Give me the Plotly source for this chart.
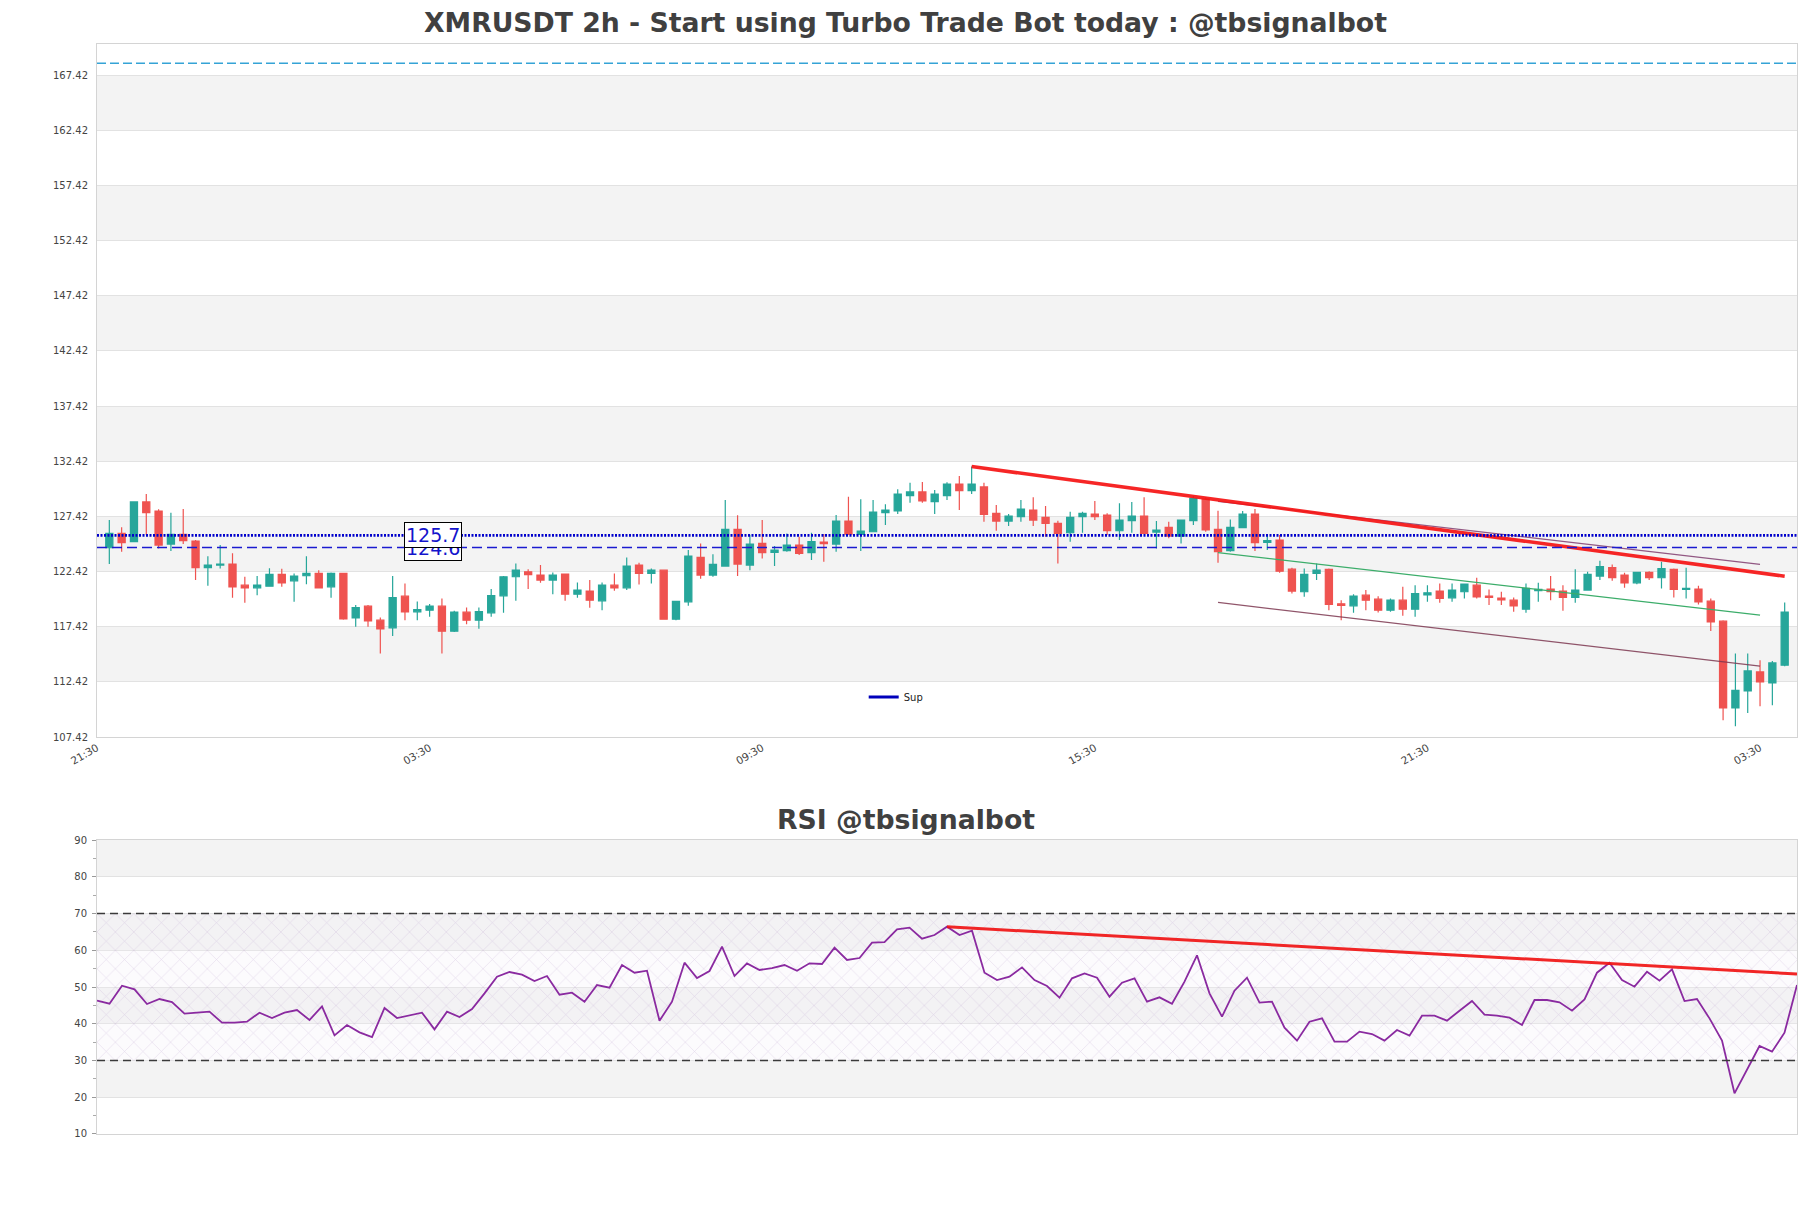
import pandas as pd
import plotly.graph_objects as go

# ---------------- data ----------------
START = "2024-06-07 23:30"
N_CANDLES = 137

opens = [124.58, 125.88, 125.13, 128.73, 127.91, 124.91, 125.79, 125.19, 122.77, 123.01,
         123.10, 121.19, 120.95, 121.10, 122.16, 121.58, 122.04, 122.25, 121.04, 122.25,
         118.22, 119.28, 118.01, 117.32, 120.19, 118.77, 118.92, 119.28, 117.01, 118.74,
         118.01, 118.68, 120.22, 121.95, 122.40, 122.10, 121.65, 122.19, 120.37, 120.65,
         119.77, 121.19, 120.95, 123.01, 122.25, 122.55, 118.10, 119.68, 123.70, 122.10,
         122.92, 126.25, 123.01, 124.97, 124.16, 124.31, 124.82, 124.13, 125.10, 124.91,
         127.00, 125.79, 126.03, 127.76, 127.91, 129.30, 129.64, 128.76, 129.30, 130.36,
         129.76, 130.09, 127.70, 127.00, 127.40, 128.00, 127.34, 126.79, 125.94, 127.40,
         127.64, 127.55, 126.12, 127.03, 127.46, 126.00, 126.43, 125.64, 127.03, 129.00,
         126.25, 124.31, 126.40, 127.64, 125.07, 125.28, 122.64, 120.59, 122.25, 122.61,
         119.50, 119.31, 120.28, 119.92, 118.92, 119.83, 119.01, 120.31, 120.65, 120.04,
         120.59, 121.19, 120.19, 120.01, 119.83, 119.01, 120.68, 120.83, 120.65, 120.07,
         120.74, 122.01, 122.77, 122.10, 121.40, 122.34, 121.86, 122.61, 120.80, 120.83,
         119.74, 117.92, 110.05, 111.60, 113.32, 112.32, 113.93]
highs = [127.09, 126.43, 128.79, 129.45, 128.06, 127.76, 128.09, 125.28, 123.82, 124.82,
         124.07, 121.95, 122.01, 122.73, 122.67, 122.25, 123.82, 122.55, 122.34, 122.30,
         119.38, 119.38, 118.26, 122.01, 121.34, 119.71, 119.47, 119.98, 118.86, 119.16,
         119.16, 120.83, 122.01, 123.16, 122.64, 123.01, 122.34, 122.25, 121.43, 121.65,
         121.43, 122.25, 123.70, 123.22, 122.70, 122.61, 119.77, 124.37, 124.97, 123.98,
         128.91, 127.52, 125.76, 127.09, 124.73, 125.88, 125.58, 125.94, 125.82, 127.55,
         129.21, 128.97, 128.91, 128.52, 129.88, 130.48, 130.54, 129.82, 130.51, 131.09,
         131.94, 130.48, 128.46, 127.64, 128.91, 129.15, 128.36, 127.03, 127.85, 127.85,
         128.82, 127.70, 128.61, 128.73, 129.15, 127.00, 126.94, 127.12, 129.27, 129.15,
         127.94, 127.15, 127.91, 128.09, 125.73, 125.73, 122.77, 122.70, 123.16, 122.70,
         119.83, 120.37, 120.74, 120.19, 119.98, 121.04, 121.19, 121.19, 121.34, 121.34,
         121.34, 121.86, 120.80, 120.59, 120.07, 121.34, 121.40, 122.01, 121.19, 122.64,
         122.40, 123.40, 123.07, 122.31, 122.40, 122.46, 123.31, 122.70, 122.77, 121.13,
         119.98, 118.01, 114.99, 114.99, 114.38, 114.32, 119.62]
lows = [123.10, 124.22, 125.10, 125.73, 124.52, 124.28, 124.91, 121.65, 121.13, 122.70,
        120.04, 119.59, 120.28, 121.04, 121.04, 119.68, 121.28, 120.90, 120.04, 118.05,
        117.41, 117.41, 114.99, 116.59, 118.01, 118.01, 118.32, 114.99, 116.95, 117.65,
        117.23, 118.32, 118.68, 119.77, 120.83, 121.40, 120.37, 119.77, 120.04, 119.13,
        118.92, 120.68, 120.74, 121.25, 121.34, 118.05, 118.01, 119.31, 121.77, 121.95,
        122.86, 122.01, 122.55, 123.61, 122.92, 124.22, 123.92, 123.46, 123.31, 124.22,
        125.73, 124.28, 126.00, 126.64, 127.64, 128.67, 128.67, 127.64, 128.91, 128.00,
        129.45, 126.94, 126.12, 126.55, 126.94, 126.55, 125.58, 123.16, 125.13, 125.94,
        127.09, 125.73, 125.28, 125.94, 125.82, 124.52, 125.43, 124.97, 126.64, 126.03,
        123.22, 124.22, 126.34, 124.28, 124.37, 122.31, 120.43, 120.13, 121.65, 118.92,
        118.01, 118.68, 118.92, 118.71, 118.77, 118.41, 118.32, 119.68, 119.59, 119.68,
        119.98, 119.98, 119.38, 119.38, 118.77, 118.68, 119.68, 119.83, 118.86, 119.59,
        120.68, 121.65, 121.58, 120.95, 121.28, 121.65, 120.89, 120.07, 119.98, 119.44,
        117.04, 108.93, 108.39, 109.60, 110.20, 110.29, 113.84]
closes = [125.88, 125.04, 128.73, 127.76, 124.82, 125.79, 125.22, 122.77, 123.01, 123.10,
          121.04, 120.95, 121.19, 122.16, 121.40, 122.01, 122.25, 120.95, 122.25, 118.13,
          119.16, 117.95, 117.23, 120.07, 118.77, 118.98, 119.28, 117.01, 118.74, 118.01,
          118.80, 120.25, 121.95, 122.55, 122.13, 121.65, 122.10, 120.37, 120.74, 119.83,
          121.19, 120.95, 122.92, 122.25, 122.55, 118.10, 119.71, 123.82, 122.10, 123.07,
          126.25, 123.10, 124.91, 124.13, 124.37, 124.82, 124.07, 125.13, 124.94, 127.00,
          125.82, 126.09, 127.82, 128.00, 129.45, 129.64, 128.82, 129.45, 130.36, 129.76,
          130.36, 127.61, 127.00, 127.46, 128.09, 127.09, 126.79, 125.88, 127.34, 127.70,
          127.40, 126.12, 127.09, 127.46, 125.88, 126.19, 125.64, 127.09, 129.06, 126.19,
          124.22, 126.43, 127.64, 125.04, 125.22, 122.46, 120.65, 122.16, 122.55, 119.44,
          119.35, 120.19, 119.83, 118.92, 119.83, 119.01, 120.43, 120.49, 119.98, 120.74,
          121.28, 120.13, 120.07, 119.86, 119.31, 120.89, 120.80, 120.59, 120.07, 120.74,
          122.16, 122.86, 121.86, 121.40, 122.34, 121.86, 122.70, 120.80, 120.89, 119.68,
          117.86, 110.05, 111.66, 113.41, 112.41, 114.14, 118.74]
rsi = [46.28, 45.46, 50.36, 49.36, 45.37, 46.73, 45.92, 42.74, 43.02, 43.29,
       40.29, 40.29, 40.57, 43.02, 41.56, 43.02, 43.74, 41.02, 44.74, 36.85,
       39.66, 37.66, 36.39, 44.29, 41.56, 42.20, 43.02, 38.48, 43.29, 41.84,
       44.01, 48.28, 52.81, 54.08, 53.36, 51.63, 52.99, 47.91, 48.46, 46.01,
       50.54, 49.82, 55.99, 53.90, 54.44, 40.84, 46.01, 56.62, 52.45, 54.35,
       60.98, 52.99, 56.44, 54.63, 55.17, 55.99, 54.44, 56.44, 56.26, 60.70,
       57.35, 57.89, 62.06, 62.24, 65.69, 66.15, 63.15, 64.15, 66.42, 64.15,
       65.33, 53.90, 51.90, 52.81, 55.35, 51.90, 50.27, 47.10, 52.36, 53.72,
       52.54, 47.37, 51.18, 52.36, 46.01, 47.19, 45.46, 51.45, 58.62, 48.28,
       41.93, 49.00, 52.54, 45.74, 46.01, 38.93, 35.40, 40.57, 41.47, 35.12,
       35.12, 37.85, 37.21, 35.40, 38.30, 36.76, 42.20, 42.20, 40.84, 43.56,
       46.19, 42.47, 42.20, 41.66, 39.66, 46.46, 46.46, 45.83, 43.56, 46.64,
       53.90, 56.62, 51.90, 50.09, 54.17, 51.72, 54.81, 46.19, 46.73, 41.47,
       35.40, 21.07, 27.41, 33.95, 32.40, 37.57, 50.54]

price_ticks = [107.42, 112.42, 117.42, 122.42, 127.42, 132.42, 137.42, 142.42,
               147.42, 152.42, 157.42, 162.42, 167.42]
price_range = [107.42, 170.25]
rsi_ticks = [10, 20, 30, 40, 50, 60, 70, 80, 90]
rsi_range = [10, 90]
rsi_levels = [30, 70]

top_level = 168.5
sup_levels = [125.7, 124.6]
sup_labels = ["125.7", "124.6"]
label_idx = 26

# trend lines: (candle index, value)
main_trend_idx = [70, 136]
main_trend_val = [131.94, 122.0]
chan_idx = [90, 134]
chan_upper = [128.79, 123.07]
chan_mid = [124.13, 118.47]
chan_lower = [119.62, 113.84]
rsi_trend_idx = [68, 136]
rsi_trend_val = [66.42, 53.54]

# ---------------- figure ----------------
times = pd.date_range(START, periods=N_CANDLES, freq="2h")
step = pd.Timedelta(hours=2)
UP, DOWN = "#26a69a", "#ef5350"
GRID = "#e2e2e2"
BAND = "#f3f3f3"
AXC = "#d4d4d4"
FONT = "DejaVu Sans"

fig = go.Figure()
fig.add_trace(go.Candlestick(
    x=times, open=opens, high=highs, low=lows, close=closes,
    increasing=dict(line=dict(color=UP, width=1.2), fillcolor=UP),
    decreasing=dict(line=dict(color=DOWN, width=1.2), fillcolor=DOWN),
    whiskerwidth=0, showlegend=False, xaxis="x", yaxis="y", hoverinfo="skip"))


def seg(idx, vals, color, width, xa="x", ya="y"):
    fig.add_trace(go.Scatter(x=[times[i] for i in idx], y=vals, mode="lines",
                             line=dict(color=color, width=width), showlegend=False,
                             hoverinfo="skip", xaxis=xa, yaxis=ya))


seg(chan_idx, chan_upper, "rgba(128,60,110,0.85)", 1.2)
seg(chan_idx, chan_mid, "#3cad6a", 1.2)
seg(chan_idx, chan_lower, "rgba(125,55,80,0.85)", 1.2)
seg(main_trend_idx, main_trend_val, "rgba(245,20,20,0.92)", 3.6)

# legend entry
fig.add_trace(go.Scatter(x=[None], y=[None], mode="lines", name="Sup",
                         line=dict(color="#0000bb", width=3), xaxis="x", yaxis="y"))

# RSI hatch zone
fig.add_trace(go.Scatter(x=[times[0], times[-1]], y=[rsi_levels[0]] * 2, mode="lines",
                         line=dict(width=0, color="rgba(0,0,0,0)"), showlegend=False,
                         hoverinfo="skip", xaxis="x2", yaxis="y2"))
fig.add_trace(go.Scatter(x=[times[0], times[-1]], y=[rsi_levels[1]] * 2, mode="lines",
                         line=dict(width=0, color="rgba(0,0,0,0)"), fill="tonexty",
                         fillcolor="rgba(235,225,242,0.25)",
                         fillpattern=dict(shape="x", fgcolor="rgba(175,145,200,0.7)",
                                          bgcolor="rgba(245,238,248,0.25)", size=13, solidity=0.08),
                         showlegend=False, hoverinfo="skip", xaxis="x2", yaxis="y2"))
fig.add_trace(go.Scatter(x=times, y=rsi, mode="lines", line=dict(color="#8a2aa0", width=1.8),
                         showlegend=False, hoverinfo="skip", xaxis="x2", yaxis="y2"))
seg(rsi_trend_idx, rsi_trend_val, "rgba(240,20,20,0.92)", 3, "x2", "y2")

shapes = []
# alternating bands
for k in range(0, len(price_ticks) - 1):
    if k % 2 == 1:
        shapes.append(dict(type="rect", xref="x domain", yref="y", x0=0, x1=1,
                           y0=price_ticks[k], y1=price_ticks[k + 1], fillcolor=BAND,
                           line=dict(width=0), layer="below"))
for k in range(0, len(rsi_ticks) - 1):
    if k % 2 == 1:
        shapes.append(dict(type="rect", xref="x2 domain", yref="y2", x0=0, x1=1,
                           y0=rsi_ticks[k], y1=rsi_ticks[k + 1], fillcolor=BAND,
                           line=dict(width=0), layer="below"))
# level lines
shapes.append(dict(type="line", xref="x domain", yref="y", x0=0, x1=1, y0=top_level, y1=top_level,
                   line=dict(color="#35a3d6", width=1.5, dash="9px,4px")))
shapes.append(dict(type="line", xref="x domain", yref="y", x0=0, x1=1, y0=sup_levels[1], y1=sup_levels[1],
                   line=dict(color="#1a1ad0", width=1.5, dash="10px,5px")))
shapes.append(dict(type="line", xref="x domain", yref="y", x0=0, x1=1, y0=sup_levels[0], y1=sup_levels[0],
                   line=dict(color="#0000cc", width=2.6, dash="2px,1.5px")))
for lv in rsi_levels:
    shapes.append(dict(type="line", xref="x2 domain", yref="y2", x0=0, x1=1, y0=lv, y1=lv,
                       line=dict(color="#3a3a3a", width=1.3, dash="8px,5px")))

annotations = []
for lv, txt in zip(sup_levels[::-1], sup_labels[::-1]):
    annotations.append(dict(x=times[label_idx], y=lv, xref="x", yref="y", xshift=3,
                            text=txt, showarrow=False,
                            font=dict(family=FONT, size=19, color="#1414cc"),
                            bgcolor="white", bordercolor="black", borderwidth=1, borderpad=1))
annotations.append(dict(x=0.4756, y=1.0193, xref="paper", yref="paper", yanchor="middle",
                        text="XMRUSDT 2h - Start using Turbo Trade Bot today : @tbsignalbot",
                        showarrow=False, font=dict(family=FONT, size=26.7, color="#404040", weight="bold")))
annotations.append(dict(x=0.4756, y=0.2881, xref="paper", yref="paper", yanchor="middle",
                        text="RSI @tbsignalbot", showarrow=False,
                        font=dict(family=FONT, size=26.7, color="#404040", weight="bold")))

fig.update_layout(
    width=1811, height=1208,
    margin=dict(l=97, r=14, t=44, b=74),
    paper_bgcolor="white", plot_bgcolor="white",
    font=dict(family=FONT, color="#444444", size=10),
    boxgap=0.42, boxgroupgap=0,
    shapes=shapes, annotations=annotations,
    showlegend=True,
    legend=dict(x=0.451, y=0.401, xanchor="left", yanchor="middle", bgcolor="rgba(0,0,0,0)",
                font=dict(family=FONT, size=10, color="#222"), itemwidth=30),
    xaxis=dict(domain=[0, 1], anchor="y", type="date",
               range=[times[0] - step, times[-1] + step],
               tick0=times[0] - step, dtick=54 * 3600 * 1000, tickformat="%H:%M",
               tickangle=-30, tickfont=dict(size=10.5, color="#444"),
               showgrid=False, showline=True, linecolor=AXC, mirror=True, ticks="",
               rangeslider=dict(visible=False), zeroline=False),
    yaxis=dict(domain=[0.3642, 1], anchor="x", range=price_range,
               tickmode="array", tickvals=price_ticks, ticktext=[f"{v:.2f}" for v in price_ticks],
               tickfont=dict(size=10, color="#444"), showgrid=True, gridcolor=GRID,
               showline=True, linecolor=AXC, mirror=True, zeroline=False, ticklabelstandoff=6),
    xaxis2=dict(domain=[0, 1], anchor="y2", type="date", range=[times[0], times[-1]],
                showticklabels=False, showgrid=False, showline=True, linecolor=AXC,
                mirror=True, zeroline=False, ticks=""),
    yaxis2=dict(domain=[0, 0.2697], anchor="x2", range=rsi_range,
                tickmode="array", tickvals=rsi_ticks, tickfont=dict(size=10, color="#444"),
                ticks="outside", ticklen=4, tickcolor="#999",
                minor=dict(ticks="outside", ticklen=3, tickcolor="#aaa", dtick=5, tick0=5, showgrid=False),
                showgrid=True, gridcolor=GRID, showline=True, linecolor=AXC, mirror=True,
                zeroline=False, ticklabelstandoff=3),
)

fig.write_html("out.html")
